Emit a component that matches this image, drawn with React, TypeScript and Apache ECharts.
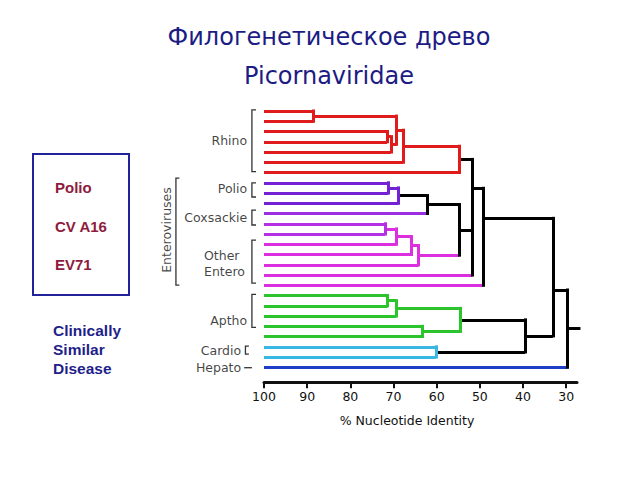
import React, { useEffect, useRef } from "react";
import * as echarts from "echarts";

// ---------- texts ----------
const titleLines = ["Филогенетическое древо", "Picornaviridae"];
const boxItems = ["Polio", "CV A16", "EV71"];
const noteLines = ["Clinically", "Similar", "Disease"];
const axisTitle = "% Nucleotide Identity";
const tickValues = [100, 90, 80, 70, 60, 50, 40, 30];

// ---------- colours ----------
const RED = "#e01b1b";
const POLIO = "#7421d6";
const POLIO2 = "#9a2ee2";
const COX = "#b52fe3";
const OTHER = "#dc2fdf";
const GREEN = "#2cc42c";
const CYAN = "#38b6e4";
const BLUE = "#1d3fc6";
const BLACK = "#000000";

// ---------- leaves (row 0 = top), all start at 100 % identity ----------
const leafColors = [
  RED, RED, RED, RED, RED, RED, RED,
  POLIO, POLIO, POLIO, POLIO2,
  COX, COX, OTHER, OTHER, OTHER, OTHER, OTHER,
  GREEN, GREEN, GREEN, GREEN, GREEN,
  CYAN, CYAN,
  BLUE,
];

// ---------- internal nodes: % identity where branches join ----------
const nodeIds = [
  "r01", "r23", "r234", "r04", "r05", "rhino",
  "p01", "p012", "polio",
  "c01", "c012", "c03", "other", "entero",
  "ent2", "ent3",
  "g01", "g012", "g34", "aptho", "cardio", "ac",
  "picorna", "root",
];
const nodeIdentity = [
  88.5, 71.5, 70.6, 69.4, 67.8, 54.8,
  71.2, 68.9, 62.3,
  72.0, 69.4, 65.8, 64.2, 54.8,
  51.7, 49.2,
  71.4, 69.4, 63.4, 54.6, 60.2, 39.5,
  33.1, 29.8,
];
const nodeChildren: (number | string)[][] = [
  [0, 1], [2, 3], ["r23", 4], ["r01", "r234"], ["r04", 5], ["r05", 6],
  [7, 8], ["p01", 9], ["p012", 10],
  [11, 12], ["c01", 13], ["c012", 14], ["c03", 15], ["polio", "other"],
  ["rhino", "entero", 16], ["ent2", 17],
  [18, 19], ["g01", 20], [21, 22], ["g012", "g34"], [23, 24], ["aptho", "cardio"],
  ["ent3", "ac"], ["picorna", 25],
];
const nodeColors = [
  RED, RED, RED, RED, RED, RED,
  POLIO, POLIO, BLACK,
  COX, OTHER, OTHER, OTHER, BLACK,
  BLACK, BLACK,
  GREEN, GREEN, GREEN, GREEN, CYAN, BLACK,
  BLACK, BLACK,
];
// colour of the branch leading from a node to its parent (null = parent's colour)
const nodeStemColors: (string | null)[] = [
  null, null, null, null, null, null,
  null, null, null,
  null, null, null, OTHER, null,
  null, null,
  null, null, null, null, null, null,
  null, null,
];
// join rows read from the picture where the drawing is not at the midpoint
const nodeJoinRow: (number | null)[] = [
  null, null, null, null, null, null,
  null, null, null,
  null, null, null, null, null,
  7.54, 10.47,
  null, null, null, null, null, null,
  17.46, null,
];
const rootStemEnd = 26.7;

// ---------- group labels & brackets ----------
const groupLabels = ["Rhino", "Polio", "Coxsackie", "Other", "Entero", "Aptho", "Cardio", "Hepato"];
const groupLabelRows = [2.83, 7.54, 10.41, 14.05, 15.68, 20.39, 23.32, 25.04];
const groupLabelAnchor = [103.9, 103.9, 103.9, 113.9, 113.9, 103.9, 105.3, 105.3];
const groupLabelSide = ["left", "left", "left", "right", "right", "left", "left", "left"];

const bracketFrom = [-0.1, 7.02, 9.66, 12.59, 17.88, 22.93];
const bracketTo = [5.92, 8.39, 11.12, 16.78, 21.1, 23.71];
const bracketSpine = [102.8, 102.8, 102.8, 102.8, 102.8, 104.3];
const bracketTip = [101.85, 101.85, 101.85, 101.85, 101.85, 103.5];
const hepatoDash = [104.6, 102.8];
const hepatoRow = 25.04;

const enteroLabel = "Enteroviruses";
const enteroLabelPos = [122.5, 11.61];
const enteroBracket = { spine: 120.4, tip: 119.6, from: 6.54, to: 16.98 };

// ---------- build dendrogram segments ----------
function buildSegments() {
  const idx = new Map<string, number>();
  nodeIds.forEach((id, i) => idx.set(id, i));
  const rowOf = new Map<string, number>();
  const refRow = (r: number | string) => (typeof r === "number" ? r : (rowOf.get(r) as number));
  const refH = (r: number | string) => (typeof r === "number" ? 100 : nodeIdentity[idx.get(r) as number]);
  const segs: any[] = [];
  const verts: any[] = [];
  nodeIds.forEach((id, i) => {
    const rows = nodeChildren[i].map(refRow);
    const lo = Math.min(...rows);
    const hi = Math.max(...rows);
    const jr = nodeJoinRow[i];
    rowOf.set(id, jr != null ? jr : (lo + hi) / 2);
    const h = nodeIdentity[i];
    verts.push({
      coords: [[h, lo], [h, hi]],
      lineStyle: { color: nodeColors[i], width: 3, cap: "square", opacity: 1 },
    });
    nodeChildren[i].forEach((k) => {
      let color: string;
      if (typeof k === "number") color = leafColors[k];
      else {
        const ki = idx.get(k) as number;
        color = nodeStemColors[ki] || nodeColors[i];
      }
      const r = refRow(k);
      segs.push({
        coords: [[refH(k), r], [h, r]],
        lineStyle: { color, width: 3, cap: "butt", opacity: 1 },
      });
    });
  });
  const rootI = nodeIds.length - 1;
  const rr = rowOf.get(nodeIds[rootI]) as number;
  segs.push({
    coords: [[nodeIdentity[rootI], rr], [rootStemEnd, rr]],
    lineStyle: { color: BLACK, width: 3, cap: "butt", opacity: 1 },
  });
  return segs.concat(verts);
}

function buildBrackets() {
  const out: any[] = bracketFrom.map((f, i) => ({
    coords: [
      [bracketTip[i], f],
      [bracketSpine[i], f],
      [bracketSpine[i], bracketTo[i]],
      [bracketTip[i], bracketTo[i]],
    ],
  }));
  out.push({
    coords: [
      [enteroBracket.tip, enteroBracket.from],
      [enteroBracket.spine, enteroBracket.from],
      [enteroBracket.spine, enteroBracket.to],
      [enteroBracket.tip, enteroBracket.to],
    ],
  });
  out.push({ coords: [[hepatoDash[0], hepatoRow], [hepatoDash[1], hepatoRow], [hepatoDash[1], hepatoRow]] });
  return out;
}

const TREE_FONT = "DejaVu Sans";

export default function App() {
  const ref = useRef<HTMLDivElement>(null);
  useEffect(() => {
    if (!ref.current) return;
    const chart = echarts.init(ref.current, null, { renderer: "svg" });
    const labelData: any[] = groupLabels.map((t, i) => ({
      value: [groupLabelAnchor[i], groupLabelRows[i]],
      name: t,
      label: { position: groupLabelSide[i] },
    }));
    labelData.push({
      value: enteroLabelPos,
      name: enteroLabel,
      label: { position: "inside", rotate: 90 },
    });

    const option: any = {
      animation: false,
      backgroundColor: "#ffffff",
      grid: { left: 264, right: 63, top: 111, bottom: 112.7, containLabel: false, outerBoundsMode: "none" },
      xAxis: {
        type: "value",
        inverse: true,
        position: "bottom",
        min: 27.5,
        max: 100,
        offset: 15,
        splitLine: { show: false },
        axisLine: { show: true, onZero: false, lineStyle: { color: "#111", width: 3 } },
        axisTick: { show: true, customValues: tickValues, length: 6, lineStyle: { color: "#111", width: 2 } },
        axisLabel: {
          customValues: tickValues,
          margin: 8,
          color: "#111",
          fontFamily: TREE_FONT,
          fontSize: 12.5,
        },
        name: axisTitle,
        nameLocation: "middle",
        nameGap: 32,
        nameTextStyle: { color: "#111", fontFamily: TREE_FONT, fontSize: 12.5, padding: [0, 27, 0, 0] },
      },
      yAxis: { type: "value", show: false, inverse: true, min: 0, max: 25 },
      series: [
        {
          type: "lines",
          coordinateSystem: "cartesian2d",
          polyline: false,
          silent: true,
          clip: false,
          z: 3,
          data: buildSegments(),
        },
        {
          type: "lines",
          coordinateSystem: "cartesian2d",
          polyline: true,
          silent: true,
          clip: false,
          z: 2,
          lineStyle: { color: "#333", width: 1.3, opacity: 1 },
          data: buildBrackets(),
        },
        {
          type: "scatter",
          symbolSize: 0,
          silent: true,
          clip: false,
          itemStyle: { color: "transparent" },
          label: {
            show: true,
            distance: 0,
            formatter: (p: any) => p.name,
            color: "#111",
            fontFamily: TREE_FONT,
            fontSize: 12.5,
          },
          data: labelData,
        },
      ],
      graphic: [
        {
          type: "text",
          x: 329,
          y: 37,
          style: {
            text: titleLines[0],
            fill: "#1c1c84",
            font: '24px "DejaVu Sans"',
            align: "center",
            verticalAlign: "middle",
            textAlign: "center",
            textVerticalAlign: "middle",
          },
        },
        {
          type: "text",
          x: 329,
          y: 76,
          style: {
            text: titleLines[1],
            fill: "#1c1c84",
            font: '24px "DejaVu Sans"',
            align: "center",
            verticalAlign: "middle",
            textAlign: "center",
            textVerticalAlign: "middle",
          },
        },
        {
          type: "rect",
          shape: { x: 33, y: 154, width: 96, height: 141 },
          style: { fill: "none", stroke: "#22229a", lineWidth: 2 },
        },
        ...boxItems.map((t, i) => ({
          type: "text",
          x: 55,
          y: [187.7, 226, 264.3][i],
          style: {
            text: t,
            fill: "#8e1b3e",
            font: 'bold 15px "Liberation Sans"',
            align: "left",
            verticalAlign: "middle",
            textAlign: "left",
            textVerticalAlign: "middle",
          },
        })),
        ...noteLines.map((t, i) => ({
          type: "text",
          x: 53,
          y: 330 + i * 19.2,
          style: {
            text: t,
            fill: "#1f1f8a",
            font: 'bold 15.5px "Liberation Sans"',
            align: "left",
            verticalAlign: "middle",
            textAlign: "left",
            textVerticalAlign: "middle",
          },
        })),
      ],
    };
    chart.setOption(option);
    return () => chart.dispose();
  }, []);
  return (
    <div
      ref={ref}
      style={{ position: "fixed", left: 0, top: 0, width: 640, height: 480, background: "#fff" }}
    />
  );
}
